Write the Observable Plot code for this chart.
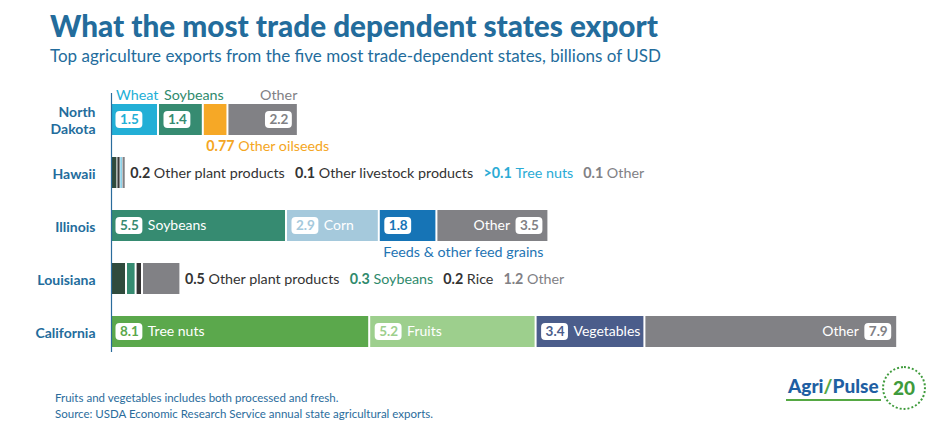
<!DOCTYPE html>
<html><head><meta charset="utf-8">
<script src="https://cdn.jsdelivr.net/npm/d3@7"></script>
<script src="https://cdn.jsdelivr.net/npm/@observablehq/plot@0.6"></script>
<style>
html,body{margin:0;padding:0;background:#fff;}
body{width:940px;height:438px;position:relative;overflow:hidden;font-family:Lato,"Open Sans",sans-serif;}
#title{position:absolute;left:50px;top:11px;font-size:29.7px;line-height:30px;font-weight:900;color:#236c9c;white-space:nowrap;}
#subtitle{position:absolute;left:50px;top:47px;font-size:17px;line-height:17px;color:#236c9c;white-space:nowrap;}
#chart{position:absolute;left:0;top:75px;}
#footer{position:absolute;left:55px;top:390px;font-size:11.5px;line-height:16px;color:#2a6c9c;}
#logo{position:absolute;left:786px;top:375px;font-size:19px;line-height:22px;font-weight:900;color:#1f5fa3;border-bottom:2px solid #55a843;padding:0 2px 2px 2px;}
#badge{position:absolute;left:882px;top:366px;width:40px;height:40px;border:2px dotted #3f9b3c;border-radius:50%;color:#3f9b3c;font-weight:900;font-size:19px;line-height:40px;text-align:center;}
</style></head><body>
<div id="title">What the most trade dependent states export</div>
<div id="subtitle">Top agriculture exports from the five most trade-dependent states, billions of USD</div>
<div id="chart"></div>
<div id="footer">Fruits and vegetables includes both processed and fresh.<br>Source: USDA Economic Research Service annual state agricultural exports.</div>
<div id="logo">Agri<span style="color:#55a843">/</span>Pulse</div>
<div id="badge">20</div>
<script>
const states = ["North Dakota", "Hawaii", "Illinois", "Louisiana", "California"];

const ndCategories = ["Wheat", "Soybeans", "Other oilseeds", "Other"];
const ndValues = [1.5, 1.4, 0.77, 2.2];
const ndLabels = ["1.5", "1.4", "0.77", "2.2"];

const hiCategories = ["Other plant products", "Other livestock products", "Tree nuts", "Other"];
const hiValues = [0.2, 0.1, 0.06, 0.1];
const hiLabels = ["0.2", "0.1", ">0.1", "0.1"];

const ilCategories = ["Soybeans", "Corn", "Feeds & other feed grains", "Other"];
const ilValues = [5.5, 2.9, 1.8, 3.5];
const ilLabels = ["5.5", "2.9", "1.8", "3.5"];

const laCategories = ["Other plant products", "Soybeans", "Rice", "Other"];
const laValues = [0.5, 0.3, 0.2, 1.2];
const laLabels = ["0.5", "0.3", "0.2", "1.2"];

const caCategories = ["Tree nuts", "Fruits", "Vegetables", "Other"];
const caValues = [8.1, 5.2, 3.4, 7.9];
const caLabels = ["8.1", "5.2", "3.4", "7.9"];

const barColors = {
  "Wheat": "#22afd6", "Soybeans": "#368b71", "Other oilseeds": "#f6a826", "Other": "#818185",
  "Corn": "#a5c9dc", "Feeds & other feed grains": "#1674b6", "Tree nuts": "#5ba84c",
  "Fruits": "#9dcf8d", "Vegetables": "#4b5d8b", "Other plant products": "#304b3d",
  "Other livestock products": "#3a3a3a", "Rice": "#333333"
};
const labelColors = {
  "Wheat": "#22afd6", "Soybeans": "#2f8a6c", "Other oilseeds": "#f4a623", "Other": "#818185",
  "Feeds & other feed grains": "#1e74b3", "Tree nuts": "#2aabd5", "Other plant products": "#333333",
  "Other livestock products": "#333333", "Rice": "#333333"
};

const rows = [
  ["North Dakota", ndCategories, ndValues, ndLabels, "above"],
  ["Hawaii", hiCategories, hiValues, hiLabels, "inline"],
  ["Illinois", ilCategories, ilValues, ilLabels, "inside"],
  ["Louisiana", laCategories, laValues, laLabels, "inline"],
  ["California", caCategories, caValues, caLabels, "inside"]
];

const X0 = 111, K = 32, FS = 14.3, IFS = 14, BFS = 13.5;
const xMax = d3.max(rows, r => d3.sum(r[2]));
const toX = p => (p - X0) / K;
const ctx = document.createElement("canvas").getContext("2d");
function tw(t, size, weight) { ctx.font = `${weight} ${size}px Lato`; return ctx.measureText(t).width; }

const segs = [], boxes = [], insideNames = [], aboveNames = [], belowBold = [], belowNames = [], inlineBold = [], inlineNames = [];
for (const [state, cats, vals, labs, style] of rows) {
  let acc = 0; const list = [];
  cats.forEach((c, i) => {
    const fill = (state === "Hawaii" && c === "Tree nuts") ? labelColors[c] : barColors[c];
    list.push({state, cat: c, value: vals[i], label: labs[i], start: acc, end: acc + vals[i], fill});
    acc += vals[i];
  });
  segs.push(...list);
  if (style === "inline") {
    const inset = state === "Hawaii" ? 1 : 2;
    let x = X0 + acc * K - inset + 5;
    for (const s of list) {
      const col = labelColors[s.cat];
      inlineBold.push({state, x: toX(x), text: s.label, fill: col});
      x += tw(s.label, FS, 700) + tw(" ", FS, 400);
      inlineNames.push({state, x: toX(x), text: s.cat, fill: col});
      x += tw(s.cat, FS, 400) + 10;
    }
    continue;
  }
  for (const s of list) {
    const left = X0 + s.start * K, right = X0 + s.end * K - 2;
    if (s.cat === "Other oilseeds") {
      const bx = left + 2;
      belowBold.push({state, x: toX(bx), text: s.label, fill: labelColors[s.cat]});
      belowNames.push({state, x: toX(bx + tw(s.label, FS, 700) + tw(" ", FS, 400)), text: s.cat, fill: labelColors[s.cat]});
      continue;
    }
    const bw = tw(s.label, BFS, 700) + 8;
    const bl = s.cat === "Other" ? right - 5 - bw : left + 4.5;
    boxes.push({state, x1: toX(bl), x2: toX(bl + bw), xm: toX(bl + bw / 2), text: s.label, fill: s.fill});
    if (style === "inside") {
      if (s.cat === "Feeds & other feed grains") belowNames.push({state, x: toX(left + 3), text: s.cat, fill: labelColors[s.cat]});
      else if (s.cat === "Other") insideNames.push({state, x: toX(bl - 6 - tw(s.cat, IFS, 400)), text: s.cat});
      else insideNames.push({state, x: toX(bl + bw + 5), text: s.cat});
    } else {
      const col = labelColors[s.cat];
      if (s.cat === "Other") aboveNames.push({state, x: toX(right - tw(s.cat, FS, 400)), text: s.cat, fill: col});
      else aboveNames.push({state, x: toX(bl), text: s.cat, fill: col});
    }
  }
}

const chart = Plot.plot({
  width: 940, height: 305,
  marginTop: 18, marginBottom: 28, marginLeft: 111, marginRight: 40,
  x: {domain: [0, xMax], range: [X0, X0 + K * xMax], axis: null},
  y: {domain: states, range: [26.5, 274], paddingInner: 0.406, paddingOuter: 0, axis: null},
  color: {type: "identity"},
  style: {fontFamily: "Lato, sans-serif", overflow: "visible", background: "transparent"},
  marks: [
    Plot.barX(segs.filter(d => d.state !== "Hawaii"), {x1: "start", x2: "end", y: "state", fill: "fill", insetRight: 2}),
    Plot.barX(segs.filter(d => d.state === "Hawaii"), {x1: "start", x2: "end", y: "state", fill: "fill", insetRight: 1}),
    Plot.ruleX([0], {stroke: "#2a6c9c", strokeWidth: 1.2}),
    Plot.text(states, {x: 0, y: d => d, dx: -16, textAnchor: "end", fontSize: 14, fontWeight: 700, fill: "#236c9c", lineHeight: 1.25,
      text: d => d === "North Dakota" ? "North\nDakota" : d}),
    Plot.barX(boxes, {x1: "x1", x2: "x2", y: "state", fill: "white", insetTop: 7, insetBottom: 7, rx: 4}),
    Plot.text(boxes, {x: "xm", y: "state", text: "text", fill: "fill", fontSize: BFS, fontWeight: 700, textAnchor: "middle"}),
    Plot.text(insideNames, {x: "x", y: "state", text: "text", fill: "white", fontSize: IFS, textAnchor: "start"}),
    Plot.text(aboveNames, {x: "x", y: "state", text: "text", fill: "fill", fontSize: FS, textAnchor: "start", lineAnchor: "bottom", dy: -20}),
    Plot.text(belowBold, {x: "x", y: "state", text: "text", fill: "fill", fontSize: FS, fontWeight: 700, textAnchor: "start", lineAnchor: "bottom", dy: 31}),
    Plot.text(belowNames, {x: "x", y: "state", text: "text", fill: "fill", fontSize: FS, textAnchor: "start", lineAnchor: "bottom", dy: 31}),
    Plot.text(inlineBold, {x: "x", y: "state", text: "text", fill: "fill", fontSize: FS, fontWeight: 700, textAnchor: "start"}),
    Plot.text(inlineNames, {x: "x", y: "state", text: "text", fill: "fill", fontSize: FS, textAnchor: "start"})
  ]
});
document.getElementById("chart").appendChild(chart);
</script>
</body></html>
